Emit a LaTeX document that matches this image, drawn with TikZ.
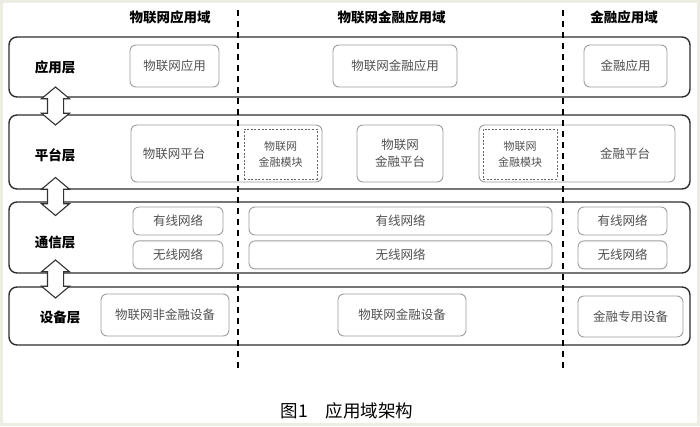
\documentclass[tikz,border=0pt]{standalone}
\usepackage{fontspec}
\setmainfont{Noto Sans CJK SC}
\usetikzlibrary{positioning,shapes.arrows}

\begin{document}
\begin{tikzpicture}[x=1pt,y=-1pt]
		\tikzstyle{layer} = [rectangle, rounded corners=8pt, draw=black!82, line width=1.4pt, minimum width=681pt]
		\tikzstyle{itemText} = [text=black!68, align=center, font=\fontsize{12.5pt}{17pt}\selectfont]
		\tikzstyle{item} = [itemText, rectangle, rounded corners=6pt, draw=black!38, line width=0.9pt, text centered]
		\tikzstyle{module} = [rectangle, draw=black!60, line width=0.9pt, dash pattern=on 2pt off 1.6pt, text=black!68, align=center, font=\fontsize{11pt}{16pt}\selectfont]
		\tikzstyle{domainName} = [font=\fontsize{13.5pt}{16pt}\selectfont\bfseries]
		\tikzstyle{layerName} = [font=\fontsize{13.5pt}{16pt}\selectfont\bfseries]
		\tikzstyle{boundary} = [line width=1.6pt, dash pattern=on 6pt off 5pt]
		\tikzstyle{linkArrow} = [double arrow, rotate=90, draw=black!80, fill=white, line width=1.1pt, minimum height=38pt, inner xsep=0pt, inner ysep=7.5pt, double arrow head extend=6pt, double arrow tip angle=100]
		
		\useasboundingbox (0,0) rectangle (700,426);
		\fill [color={rgb,255:red,237;green,237;blue,227}] (0,0) rectangle (700,426);
		\fill [white] (3,3) rectangle (697,423);
		
		\node (appLayer) [layer, minimum height=60pt] at (349.5,67) {};
		\node (platLayer) [layer, minimum height=74pt] at (349.5,152) {};
		\node (commLayer) [layer, minimum height=71pt] at (349.5,237.5) {};
		\node (devLayer) [layer, minimum height=58pt] at (349.5,316) {};
		
		\node (appLayerName) [layerName] at (55,67) {应用层};
		\node (platLayerName) [layerName] at (55,155) {平台层};
		\node (commLayerName) [layerName] at (55,242) {通信层};
		\node (devLayerName) [layerName] at (60,317) {设备层};
		
		\node (iotDomain) [domainName] at (170,17) {物联网应用域};
		\node (iotFinDomain) [domainName] at (391.5,17) {物联网金融应用域};
		\node (finDomain) [domainName] at (624,17) {金融应用域};
		
		\node (iotApp) [item, minimum width=89pt, minimum height=42pt] at (174.5,66) {物联网应用};
		\node (iotFinApp) [item, minimum width=124pt, minimum height=42pt] at (395,66) {物联网金融应用};
		\node (finApp) [item, minimum width=83pt, minimum height=42pt] at (625.5,66) {金融应用};
		
		\node (iotPlat) [item, minimum width=191pt, minimum height=57pt] at (226.5,153.5) {};
		\node (iotPlatText) [itemText] at (174,153.5) {物联网平台};
		\node (iotModule) [module, minimum width=73pt, minimum height=50pt] at (280.5,154) {物联网\\金融模块};
		\node (iotFinPlat) [item, minimum width=86pt, minimum height=57pt] at (400,153.5) {物联网\\金融平台};
		\node (finPlat) [item, minimum width=196pt, minimum height=57pt] at (577,153.5) {};
		\node (finPlatText) [itemText] at (625,154) {金融平台};
		\node (finModule) [module, minimum width=74pt, minimum height=50pt] at (520,154) {物联网\\金融模块};
		
		\begin{scope}[node distance=5pt]
			\node (wiredIot) [item, minimum width=90pt, minimum height=28pt] at (178,221) {有线网络};
			\node (wirelessIot) [item, minimum width=90pt, minimum height=28pt, below = of wiredIot] {无线网络};
			\node (wiredIotFin) [item, minimum width=303pt, minimum height=28pt] at (400.5,221) {有线网络};
			\node (wirelessIotFin) [item, minimum width=303pt, minimum height=28pt, below = of wiredIotFin] {无线网络};
			\node (wiredFin) [item, minimum width=89pt, minimum height=28pt] at (622.5,221) {有线网络};
			\node (wirelessFin) [item, minimum width=89pt, minimum height=28pt, below = of wiredFin] {无线网络};
		\end{scope}
		
		\node (devIot) [item, minimum width=128pt, minimum height=42pt] at (165,315) {物联网非金融设备};
		\node (devIotFin) [item, minimum width=128pt, minimum height=42pt] at (402,315) {物联网金融设备};
		\node (devFin) [item, minimum width=105pt, minimum height=41pt] at (630.5,316.5) {金融专用设备};
		
		\draw [boundary] (238,10) -- (238,372);
		\draw [boundary] (563,10) -- (563,372);
		
		\node (appPlatLink) [linkArrow] at (55.5,106) {};
		\node (platCommLink) [linkArrow] at (55.5,196.5) {};
		\node (commDevLink) [linkArrow] at (55.5,279) {};
		
		\node (caption) [font=\fontsize{17.5pt}{20pt}\selectfont, text=black] at (347,411) {图1　应用域架构};
	
	\end{tikzpicture}
\end{document}
